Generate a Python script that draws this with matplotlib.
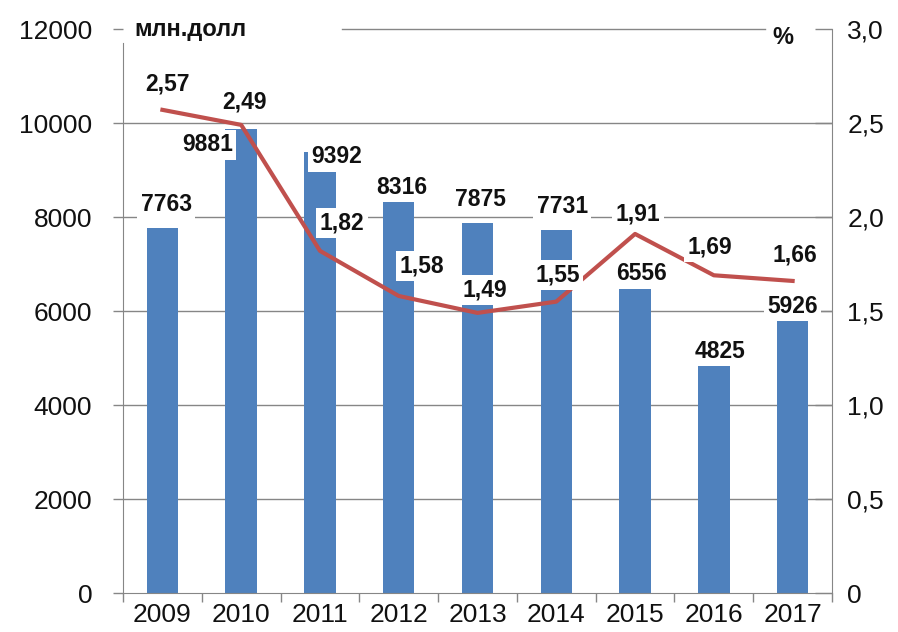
import numpy as np
import matplotlib
matplotlib.rc('font', family=['Liberation Sans', 'DejaVu Sans'])
import matplotlib.pyplot as plt

# data
years = ['2009', '2010', '2011', '2012', '2013', '2014', '2015', '2016', '2017']
invest = [7763, 9881, 9392, 8316, 7875, 7731, 6556, 4825, 5926]   # млн.долл
share = [2.57, 2.49, 1.82, 1.58, 1.49, 1.55, 1.91, 1.69, 1.66]    # %
share_txt = [('%.2f' % v).replace('.', ',') for v in share]

left_ticks = [0, 2000, 4000, 6000, 8000, 10000, 12000]
right_ticks = [0, 0.5, 1.0, 1.5, 2.0, 2.5, 3.0]
right_ticklabels = ['0', '0,5', '1,0', '1,5', '2,0', '2,5', '3,0']

# label offsets from the mark, in pixels (dx, dy up)
bar_off = [(4, 24), (-34, -16), (17, -5), (3, 15), (3, 23), (6, 23), (6, 11), (6, 15), (0, 8)]
pct_off = [(5, 26), (3, 23), (22, 28), (23, 30), (7, 23), (1, 27), (3, 20), (-4, 28), (2, 26)]

grey = '#868686'
px = 0.72  # pixels -> points at dpi 100

fig = plt.figure(figsize=(8.98, 6.32), dpi=100)
ax = fig.add_axes([0.137, 0.0617, 0.7895, 0.8924])
x = np.arange(len(years))
ax.bar(x, invest, width=0.4, color='#4F81BD', zorder=2)
ax.set_xlim(-0.5, 8.5)
ax.set_ylim(0, 12000)

# grid lines (not at the top), plus the short top line
for v in left_ticks[1:-1]:
    ax.axhline(v, color=grey, lw=1, zorder=1)
ax.axhline(12000, xmin=0.309, xmax=0.905, color=grey, lw=1, clip_on=False)

ax.set_yticks(left_ticks)
ax.tick_params(axis='y', direction='out', length=7.2, width=1, color=grey,
               pad=15, labelsize=19, labelcolor='#111111')
ax.yaxis.get_major_ticks()[-1].tick1line.set_visible(False)

ax.set_xticks(np.arange(-0.5, 9.0, 1.0))
ax.set_xticklabels([])
ax.set_xticks(x, minor=True)
ax.set_xticklabels(years, minor=True)
ax.tick_params(axis='x', which='major', direction='out', length=6.5, width=1, color=grey)
ax.tick_params(axis='x', which='minor', length=0, pad=7, labelsize=19, labelcolor='#111111')

ax.spines['top'].set_visible(False)
ax.spines['right'].set_visible(False)
ax.spines['left'].set_color(grey)
ax.spines['bottom'].set_color(grey)
ax.spines['left'].set_bounds(0, 11700)

ax2 = ax.twinx()
ax2.plot(x, share, color='#C0504D', lw=3, solid_joinstyle='round', zorder=3)
ax2.set_ylim(0, 3)
ax2.set_yticks(right_ticks)
ax2.set_yticklabels(right_ticklabels)
ax2.tick_params(axis='y', direction='in', length=12, width=1, color=grey,
                pad=11, labelsize=19, labelcolor='#111111')
for s in ['left', 'top', 'bottom']:
    ax2.spines[s].set_visible(False)
ax2.spines['right'].set_color(grey)

# value labels with white boxes
lab = dict(textcoords='offset points', ha='center', va='center', fontsize=16.5,
           fontweight='bold', color='#111111', zorder=6,
           bbox=dict(fc='white', ec='none', pad=2.5))
for i in range(len(years)):
    ax2.annotate(str(invest[i]), xy=(x[i], invest[i]), xycoords=ax.transData,
                 xytext=(bar_off[i][0] * px, bar_off[i][1] * px), **lab)
    ax2.annotate(share_txt[i], xy=(x[i], share[i]),
                 xytext=(pct_off[i][0] * px, pct_off[i][1] * px), **lab)

fig.text(0.150, 0.954, 'млн.долл', fontsize=17, fontweight='bold', va='center', color='#111111')
fig.text(0.883, 0.940, '%', fontsize=17, fontweight='bold', ha='right', va='center', color='#111111')

fig.savefig('out.png', dpi=100)
